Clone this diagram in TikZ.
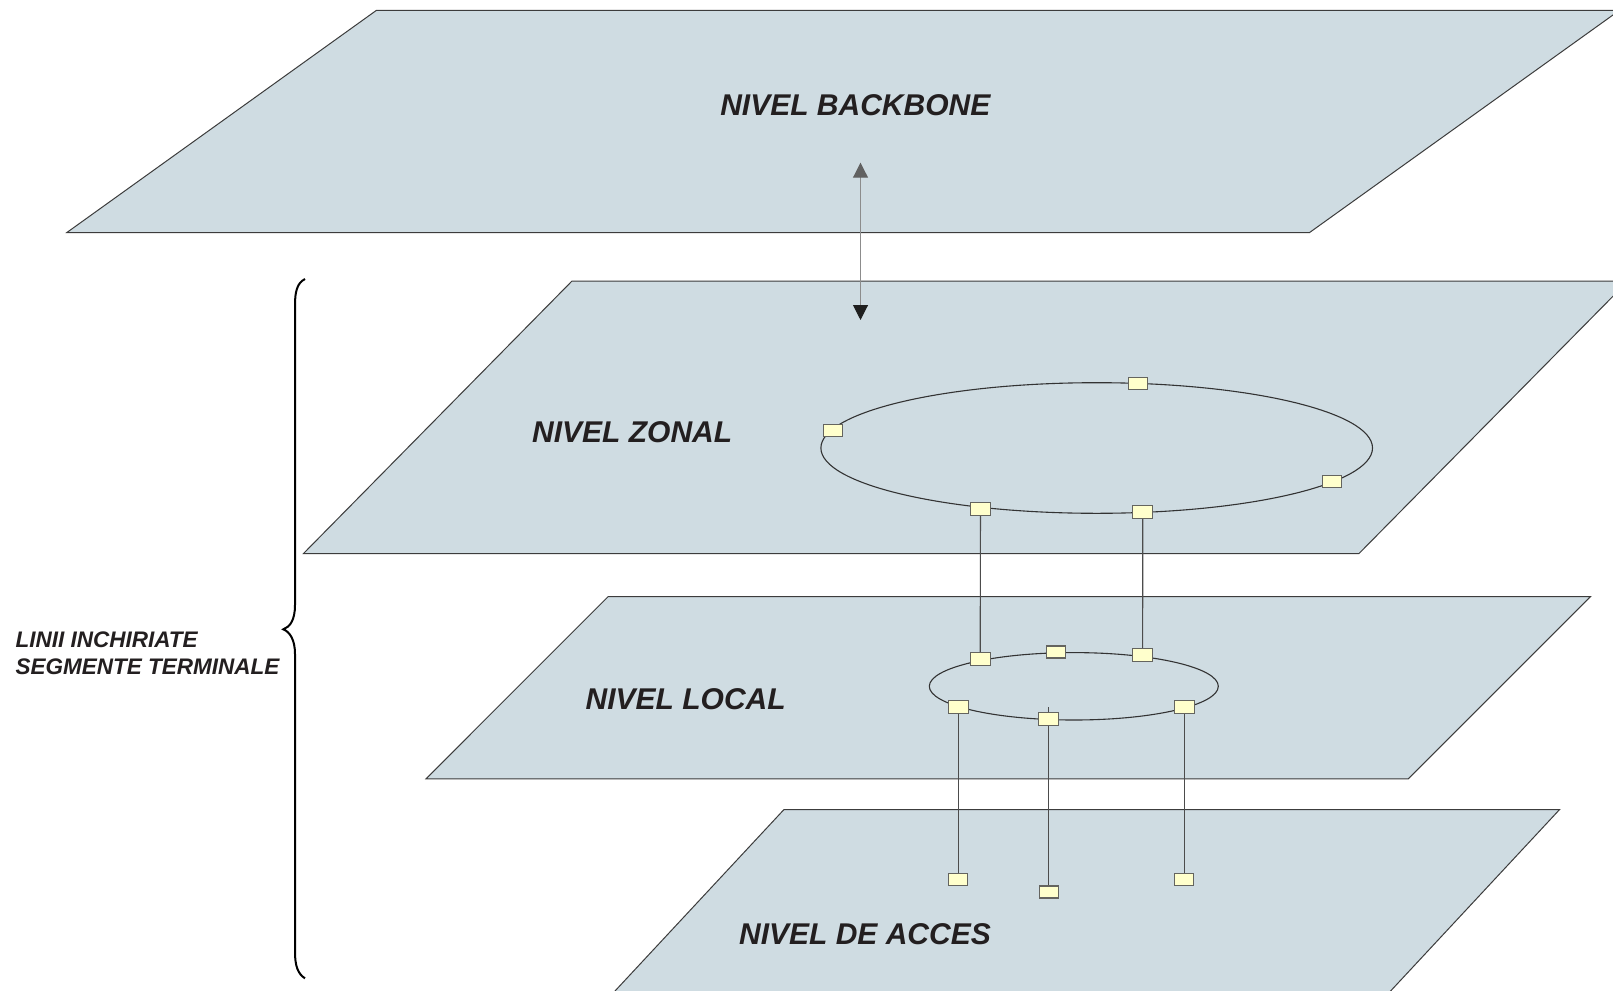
\documentclass[tikz,border=0pt]{standalone}
\usepackage{fontspec}
\setmainfont{Liberation Sans}
\usetikzlibrary{arrows.meta}
\definecolor{planefill}{RGB}{207,220,226}
\definecolor{planeline}{RGB}{60,60,60}
\definecolor{boxfill}{RGB}{255,255,204}
\definecolor{boxline}{RGB}{100,100,95}
\definecolor{txt}{RGB}{35,31,32}
\tikzset{
  plane/.style={fill=planefill, draw=planeline, line width=1pt},
  ring/.style={draw=black!80, line width=1.1pt},
  linkline/.style={draw=black!70, line width=1.2pt},
  nodebox/.style={draw=boxline, fill=boxfill, line width=1.3pt, minimum width=19pt, minimum height=12pt, inner sep=0pt, rectangle},
  levellabel/.style={font=\fontsize{30}{36}\selectfont\bfseries\itshape, text=txt, inner sep=0pt},
  sidelabel/.style={font=\fontsize{22.5}{26.6}\selectfont\bfseries\itshape, text=txt, inner sep=0pt, align=left}
}
\begin{document}
\begin{tikzpicture}[x=1pt,y=-1pt]
\clip (0,0) rectangle (1613,990);
\fill[white] (0,0) rectangle (1613,990);
% planes
\path[plane] (376.5,10.3) -- (1619.5,10.3) -- (1309.6,232.5) -- (66.9,232.5) -- cycle;
\path[plane] (572,281) -- (1628,281) -- (1359,553.5) -- (303.5,553.5) -- cycle;
\path[plane] (608,596.7) -- (1590.4,596.7) -- (1408.3,778.8) -- (426,778.8) -- cycle;
\path[plane] (783.9,809.6) -- (1559.5,809.6) -- (1382.2,1000) -- (606.6,1000) -- cycle;
% labels
\node[levellabel] (lbb) at (855.3,105.4) {NIVEL BACKBONE};
\node[levellabel] (lzo) at (632.2,432.6) {NIVEL ZONAL};
\node[levellabel] (llo) at (685.7,699) {NIVEL LOCAL};
\node[levellabel] (lac) at (865,934.6) {NIVEL DE ACCES};
\node[sidelabel, anchor=west] (side) at (15.4,653.3) {LINII INCHIRIATE\\SEGMENTE TERMINALE};
% brace
\draw[line width=2pt, black] (305,279) .. controls (297,283) and (295,292) .. (295,305)
  -- (295,605) .. controls (295,620) and (290,627) .. (283.3,629.3)
  .. controls (290,632) and (295,640) .. (295,654)
  -- (295,952) .. controls (295,966) and (298,974) .. (305,978.3);
% arrow between backbone and zonal
\coordinate (atop) at (860.5,162.7);
\coordinate (abot) at (860.5,320);
\draw[draw=black!45, line width=1pt, {Triangle[length=15pt,width=15pt,color=black!62]}-{Triangle[length=15pt,width=15pt,color=black!88]}] (atop) -- (abot);
% rings
\draw[ring] (1096.7,448) ellipse [x radius=275.8, y radius=65.3];
\draw[ring] (1073.8,686.3) ellipse [x radius=144.5, y radius=33.7];
% node positions
\coordinate (z1) at (832.7,430.7);
\coordinate (z2) at (1137.8,383.3);
\coordinate (z3) at (1332,481.5);
\coordinate (z4) at (980.4,508.7);
\coordinate (z5) at (1142.7,511.8);
\coordinate (l1) at (980.3,658.7);
\coordinate (l2) at (1055.7,652);
\coordinate (l3) at (1142.6,654.7);
\coordinate (l4) at (958.3,707);
\coordinate (l5) at (1048.8,719.3);
\coordinate (l6) at (1184.3,707);
\coordinate (a1) at (958.3,879.5);
\coordinate (a2) at (1048.8,891.9);
\coordinate (a3) at (1184.3,879.5);
\coordinate (l5t) at (1048.8,707);
% vertical links
\draw[linkline] (z4) -- (l1);
\draw[linkline] (z5) -- (l3);
\draw[linkline] (l4) -- (a1);
\draw[linkline] (l6) -- (a3);
\draw[linkline] (a2) -- (l5t);
% boxes
\foreach \n in {z1,z2,z3,l2,a1,a2,a3} {\node[nodebox] (b\n) at (\n) {};}
\foreach \n in {z4,z5,l1,l3,l4,l5,l6} {\node[nodebox, minimum width=20pt, minimum height=13pt] (b\n) at (\n) {};}
\end{tikzpicture}
\end{document}
